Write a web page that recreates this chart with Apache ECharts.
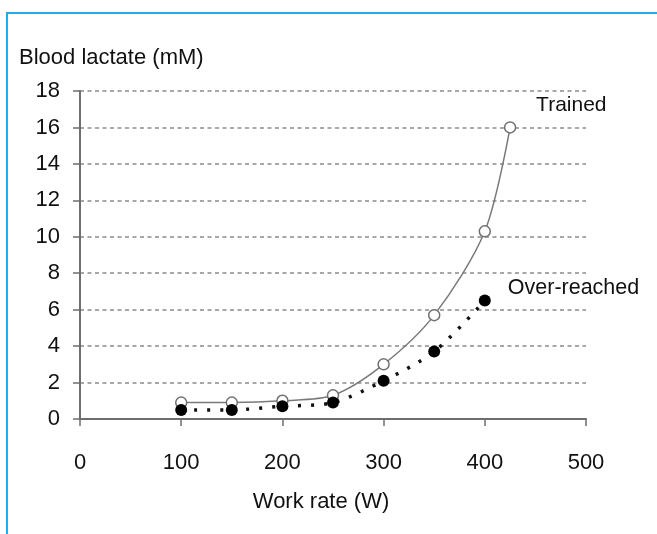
<!DOCTYPE html>
<html>
<head>
    <meta charset="utf-8">
    <script src="https://cdn.jsdelivr.net/npm/echarts@6/dist/echarts.min.js"></script>
    <style>
        html, body {
            margin: 0;
            padding: 0;
            background: #fff;
        }
        #frame {
            position: absolute;
            left: 6px;
            top: 12px;
            width: 660px;
            height: 540px;
            border-top: 2px solid #1cb0ea;
            border-left: 2px solid #1cb0ea;
            pointer-events: none;
        }
    </style>
</head>
<body>
    <div id="main" style="width: 657px;height: 534px;"></div>
    <div id="frame"></div>

    <script>
        var workRate = [100, 150, 200, 250, 300, 350, 400, 425];
        var trained = [0.9, 0.9, 1.0, 1.3, 3.0, 5.7, 10.3, 16.0];
        var overReached = [0.5, 0.5, 0.7, 0.9, 2.1, 3.7, 6.5];
        var seriesNames = ['Trained', 'Over-reached'];

        function pairs(xs, ys) {
            var out = [];
            for (var i = 0; i < ys.length; i++) {
                out.push([xs[i], ys[i]]);
            }
            return out;
        }

        var textColor = '#111';
        var font = 'Liberation Sans, Arial, sans-serif';

        var myChart = echarts.init(document.getElementById('main'));

        var option = {
            animation: false,
            // y axis title sits top-left, away from the axis
            title: {
                text: 'Blood lactate (mM)',
                left: 19,
                top: 47,
                padding: 0,
                textStyle: {
                    color: textColor,
                    fontSize: 22,
                    fontWeight: 'normal',
                    fontFamily: font
                }
            },
            grid: {
                left: 80,
                right: 71,
                top: 91,
                bottom: 115
            },
            xAxis: {
                type: 'value',
                min: 0,
                max: 500,
                interval: 100,
                name: 'Work rate (W)',
                nameLocation: 'middle',
                nameGap: 72,
                nameTextStyle: {
                    color: textColor,
                    fontSize: 22,
                    fontFamily: font,
                    padding: [0, 24, 0, 0]
                },
                axisLine: {
                    lineStyle: { color: '#6e6e6e', width: 2 }
                },
                axisTick: {
                    show: true,
                    length: 7,
                    lineStyle: { color: '#6e6e6e', width: 1.5 }
                },
                axisLabel: {
                    color: textColor,
                    fontSize: 22,
                    fontFamily: font,
                    margin: 33
                },
                splitLine: { show: false }
            },
            yAxis: {
                type: 'value',
                min: 0,
                max: 18,
                interval: 2,
                axisLine: {
                    show: true,
                    lineStyle: { color: '#6e6e6e', width: 2 }
                },
                axisTick: {
                    show: true,
                    length: 7,
                    lineStyle: { color: '#6e6e6e', width: 1.5 }
                },
                axisLabel: {
                    color: textColor,
                    fontSize: 22,
                    fontFamily: font,
                    margin: 20
                },
                splitLine: {
                    show: true,
                    lineStyle: { color: '#8a8a8a', width: 1.5, type: [4, 3.5] }
                }
            },
            series: [{
                name: seriesNames[0],
                type: 'line',
                data: pairs(workRate, trained),
                smooth: 0.3,
                symbol: 'circle',
                symbolSize: 11,
                itemStyle: { color: '#fff', borderColor: '#707070', borderWidth: 1.5 },
                lineStyle: { color: '#7a7a7a', width: 1.5 },
                endLabel: {
                    show: true,
                    formatter: seriesNames[0],
                    color: textColor,
                    fontSize: 21,
                    fontFamily: font,
                    offset: [18, -22]
                },
                z: 2
            }, {
                name: seriesNames[1],
                type: 'line',
                data: pairs(workRate, overReached),
                smooth: 0.3,
                symbol: 'circle',
                symbolSize: 12,
                itemStyle: { color: '#000' },
                lineStyle: { color: '#111', width: 3.5, type: [3, 10] },
                endLabel: {
                    show: true,
                    formatter: seriesNames[1],
                    color: textColor,
                    fontSize: 21.5,
                    fontFamily: font,
                    offset: [15, -12]
                },
                z: 3
            }]
        };

        myChart.setOption(option);
    </script>
</body>
</html>
